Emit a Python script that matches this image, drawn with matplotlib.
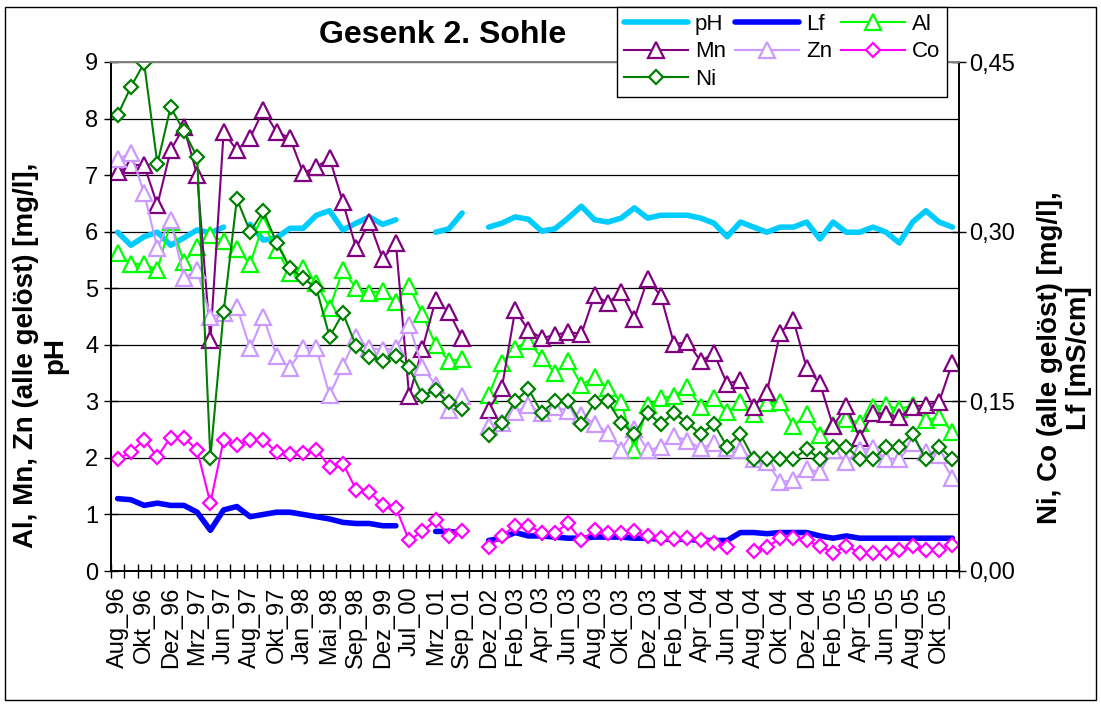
import matplotlib
matplotlib.use("Agg")
import matplotlib.pyplot as plt
import numpy as np
from matplotlib.patches import Rectangle
from matplotlib.ticker import FixedLocator, FuncFormatter

plt.rcParams['font.family'] = ['Liberation Sans', 'DejaVu Sans']

nan = np.nan

months = ["Aug_96", "Sep_96", "Okt_96", "Nov_96", "Dez_96", "Feb_97", "Mrz_97", "Mai_97",
          "Jun_97", "Jul_97", "Aug_97", "Sep_97", "Okt_97", "Nov_97", "Jan_98", "Mrz_98",
          "Mai_98", "Jul_98", "Sep_98", "Nov_98", "Dez_99", "Mrz_00", "Jul_00", "Okt_00",
          "Mrz_01", "Jun_01", "Sep_01", "Jun_02", "Dez_02", "Jan_03", "Feb_03", "Mrz_03",
          "Apr_03", "Mai_03", "Jun_03", "Jul_03", "Aug_03", "Sep_03", "Okt_03", "Nov_03",
          "Dez_03", "Jan_04", "Feb_04", "Mrz_04", "Apr_04", "Mai_04", "Jun_04", "Jul_04",
          "Aug_04", "Sep_04", "Okt_04", "Nov_04", "Dez_04", "Jan_05", "Feb_05", "Mrz_05",
          "Apr_05", "Mai_05", "Jun_05", "Jul_05", "Aug_05", "Sep_05", "Okt_05", "Nov_05"]

# left axis: mg/l and pH
ph = [5.99, 5.76, 5.91, 5.99, 5.76, 5.89, 6.03, 5.98, 6.08, nan,
      6.13, 5.85, 5.89, 6.06, 6.06, 6.29, 6.37, 6.03, 6.15, 6.26,
      6.13, 6.21, nan, nan, 5.99, 6.05, 6.33, nan, 6.08, 6.15,
      6.26, 6.22, 6.01, 6.05, 6.24, 6.45, 6.21, 6.17, 6.24, 6.42,
      6.24, 6.29, 6.29, 6.29, 6.24, 6.15, 5.91, 6.17, 6.08, 5.99,
      6.08, 6.08, 6.17, 5.87, 6.17, 5.99, 5.99, 6.08, 5.99, 5.80,
      6.17, 6.37, 6.17, 6.08]
al = [5.62, 5.43, 5.43, 5.32, 6.17, 5.46, 5.73, 5.94, 5.83, 5.69,
      5.43, 6.14, 5.68, 5.27, 5.36, 5.09, 4.65, 5.32, 5.00, 4.92,
      4.95, 4.76, 5.04, 4.54, 4.00, 3.71, 3.75, nan, 3.11, 3.68,
      3.93, 4.07, 3.77, 3.50, 3.71, 3.29, 3.43, 3.24, 2.99, 2.14,
      2.93, 3.06, 3.09, 3.25, 2.90, 3.06, 2.81, 2.99, 2.78, 2.97,
      2.99, 2.56, 2.78, 2.40, 2.58, 2.69, 2.62, 2.90, 2.93, 2.86,
      2.93, 2.67, 2.72, 2.46]
mn = [7.05, 7.18, 7.18, 6.47, 7.44, 7.85, 7.00, 4.08, 7.76, 7.44,
      7.66, 8.15, 7.76, 7.66, 7.04, 7.14, 7.30, 6.52, 5.71, 6.17,
      5.52, 5.80, 3.09, 3.93, 4.79, 4.58, 4.12, nan, 2.85, 3.24,
      4.61, 4.26, 4.12, 4.17, 4.23, 4.19, 4.88, 4.74, 4.93, 4.46,
      5.16, 4.86, 4.01, 4.05, 3.71, 3.85, 3.31, 3.38, 2.90, 3.16,
      4.21, 4.44, 3.59, 3.32, 2.56, 2.92, 2.35, 2.79, 2.78, 2.72,
      2.90, 2.94, 2.99, 3.68]
zn = [7.28, 7.39, 6.68, 5.71, 6.21, 5.18, 5.32, 4.49, 4.56, 4.67,
      3.94, 4.49, 3.80, 3.59, 3.94, 3.94, 3.11, 3.62, 4.14, 3.94,
      3.91, 3.94, 4.35, 3.60, 3.29, 2.85, 3.09, nan, 2.56, 2.62,
      2.81, 2.93, 2.79, 2.90, 2.83, 2.76, 2.60, 2.44, 2.14, 2.51,
      2.14, 2.19, 2.39, 2.30, 2.17, 2.26, 2.17, 2.14, 1.98, 1.93,
      1.57, 1.61, 1.80, 1.75, 2.14, 1.93, 2.14, 2.17, 1.98, 1.98,
      2.26, 2.10, 2.05, 1.64]

# right axis: Ni, Co in mg/l, Lf in mS/cm
lf = [0.064, 0.063, 0.058, 0.060, 0.058, 0.058, 0.052, 0.036, 0.054, 0.057,
      0.048, 0.050, 0.052, 0.052, 0.050, 0.048, 0.046, 0.043, 0.042, 0.042,
      0.040, 0.040, nan, nan, 0.035, 0.035, 0.034, nan, 0.027, 0.029,
      0.034, 0.031, 0.031, 0.030, 0.029, 0.029, 0.030, 0.030, 0.030, 0.029,
      0.029, 0.028, 0.028, 0.028, 0.027, 0.027, 0.027, 0.034, 0.034, 0.033,
      0.034, 0.034, 0.034, 0.031, 0.029, 0.031, 0.029, 0.029, 0.029, 0.029,
      0.029, 0.029, 0.029, 0.029]
co = [0.099, 0.105, 0.116, 0.101, 0.118, 0.118, 0.107, 0.060, 0.116, 0.111,
      0.116, 0.116, 0.105, 0.103, 0.104, 0.107, 0.092, 0.095, 0.072, 0.070,
      0.058, 0.056, 0.027, 0.035, 0.045, 0.031, 0.035, nan, 0.021, 0.031,
      0.040, 0.040, 0.034, 0.034, 0.042, 0.027, 0.036, 0.034, 0.034, 0.035,
      0.031, 0.029, 0.028, 0.029, 0.027, 0.025, 0.021, nan, 0.018, 0.021,
      0.029, 0.029, 0.027, 0.022, 0.016, 0.022, 0.016, 0.016, 0.016, 0.019,
      0.022, 0.019, 0.019, 0.023]
ni = [0.403, 0.428, 0.449, 0.360, 0.410, 0.389, 0.366, 0.100, 0.229, 0.329,
      0.300, 0.318, 0.290, 0.268, 0.259, 0.250, 0.207, 0.228, 0.199, 0.189,
      0.186, 0.190, 0.180, 0.155, 0.160, 0.149, 0.143, nan, 0.120, 0.131,
      0.150, 0.161, 0.140, 0.150, 0.150, 0.130, 0.149, 0.150, 0.131, 0.121,
      0.140, 0.130, 0.140, 0.131, 0.121, 0.130, 0.110, 0.121, 0.099, 0.099,
      0.099, 0.099, 0.108, 0.099, 0.110, 0.110, 0.099, 0.099, 0.110, 0.110,
      0.121, 0.099, 0.110, 0.099]

x = np.arange(len(months))

fig = plt.figure(figsize=(11.01, 7.04), dpi=100)
fig.patches.append(Rectangle((5 / 1101, 4 / 704), 1091 / 1101, 693 / 704,
                             transform=fig.transFigure, fill=False,
                             edgecolor='black', linewidth=1))
ax = fig.add_axes([111 / 1101, 133 / 704, 848 / 1101, 509 / 704])
ax2 = ax.twinx()

mk = dict(markersize=11, markeredgewidth=1.6, markerfacecolor='white')
dk = dict(markersize=7.2, markeredgewidth=1.6, markerfacecolor='white')

l_ph, = ax.plot(x, ph, color='#00CCFF', lw=4, label='pH', solid_capstyle='round')
l_al, = ax.plot(x, al, color='#00FF00', lw=1.5, marker='^', label='Al', **mk)
l_mn, = ax.plot(x, mn, color='#800080', lw=1.5, marker='^', label='Mn', **mk)
l_zn, = ax.plot(x, zn, color='#CC99FF', lw=1.5, marker='^', label='Zn', **mk)
l_lf, = ax2.plot(x, lf, color='#0000FF', lw=4, label='Lf', solid_capstyle='round')
l_co, = ax2.plot(x, co, color='#FF00FF', lw=1.5, marker='D', label='Co', **dk)
l_ni, = ax2.plot(x, ni, color='#008000', lw=1.5, marker='D', label='Ni', **dk)

ax.set_xlim(-0.5, len(months) - 0.5)
ax.set_ylim(0, 9)
ax.set_yticks(range(0, 10))
ax2.set_ylim(0, 0.45)
ax2.set_yticks([0, 0.15, 0.30, 0.45])
ax2.yaxis.set_major_formatter(FuncFormatter(lambda v, p: f"{v:.2f}".replace('.', ',')))

ax.set_xticks(x[::2])
ax.set_xticklabels(months[::2], rotation=90)
ax.xaxis.set_minor_locator(FixedLocator(np.arange(-0.5, len(months), 1)))
ax.tick_params(axis='x', which='major', length=0, pad=11, labelsize=17)
ax.tick_params(axis='x', which='minor', direction='inout', length=10, width=1)
ax.tick_params(axis='y', direction='inout', length=10, width=1, labelsize=17, pad=4)
ax2.tick_params(axis='y', direction='inout', length=10, width=1, labelsize=17, pad=2)

ax.grid(axis='y', color='black', lw=0.9)
ax.set_axisbelow(True)
for a in (ax, ax2):
    a.spines['top'].set_color('#808080')
    a.spines['top'].set_linewidth(1.4)
    for s in ('left', 'right', 'bottom'):
        a.spines[s].set_linewidth(1.2)

lab = dict(fontsize=20, fontweight='bold', rotation=90, ha='center', va='center')
fig.text(26 / 1101, 1 - 355 / 704, "Al, Mn, Zn (alle gelöst) [mg/l],", **lab)
fig.text(55 / 1101, 1 - 355 / 704, "pH", **lab)
fig.text(1050 / 1101, 1 - 358 / 704, "Ni, Co (alle gelöst) [mg/l],", **lab)
fig.text(1079 / 1101, 1 - 358 / 704, "Lf [mS/cm]", **lab)

fig.text(443 / 1101, 1 - 35 / 704, "Gesenk 2. Sohle", fontsize=23, fontweight='bold',
         ha='center', va='center')

leg = fig.legend([l_ph, l_mn, l_ni, l_lf, l_zn, l_al, l_co],
                 ['pH', 'Mn', 'Ni', 'Lf', 'Zn', 'Al', 'Co'],
                 ncol=3, loc='upper left', bbox_to_anchor=(617 / 1101, 1 - 7 / 704),
                 fontsize=16, frameon=True, fancybox=False, framealpha=1,
                 edgecolor='black', handlelength=2.9, handletextpad=0.3,
                 columnspacing=0.4, labelspacing=0.3, borderpad=0.3, borderaxespad=0)
leg.get_frame().set_linewidth(1)

fig.savefig("out.png", dpi=100)
